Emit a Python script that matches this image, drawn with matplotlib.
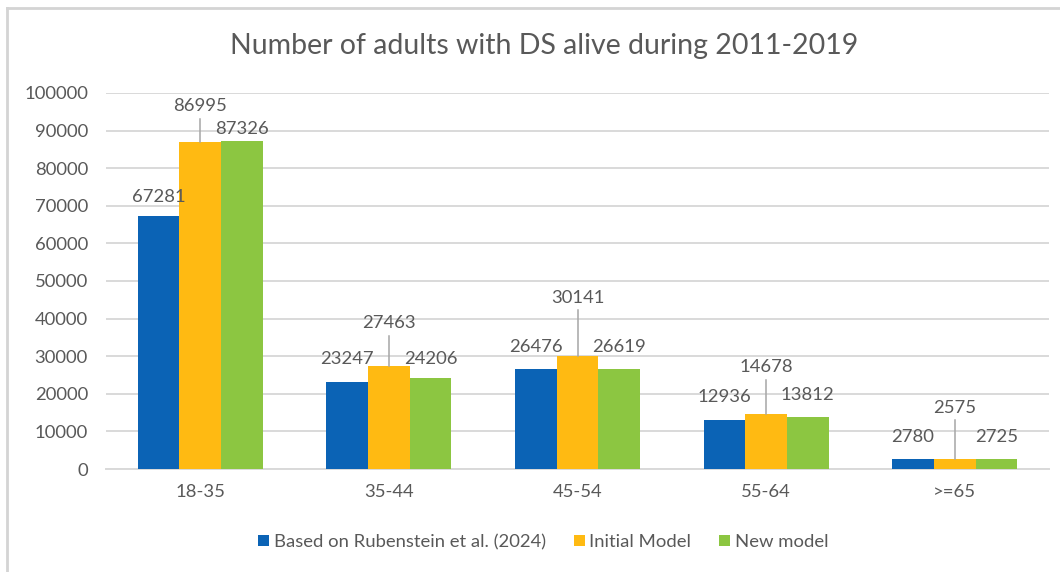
# Adults with Down syndrome alive 2011-2019, by age band and data source
import numpy as np
import matplotlib
matplotlib.use('Agg')
from matplotlib import pyplot as plt
from matplotlib.lines import Line2D

# Data
age_groups = ['18-35', '35-44', '45-54', '55-64', '>=65']
rubenstein = [67281, 23247, 26476, 12936, 2780]
initial_model = [86995, 27463, 30141, 14678, 2575]
new_model = [87326, 24206, 26619, 13812, 2725]

series_names = ['Based on Rubenstein et al. (2024)', 'Initial Model', 'New model']
colors = ['#0B63B5', '#FFBA12', '#8CC641']

# where each value label sits (data units), Excel moved several of them by hand
label_y_rub = [72300, 29300, 32500, 19200, 8500]
label_y_init = [96500, 38900, 45600, 27200, 16300]
label_y_new = [90400, 29300, 32500, 19700, 8500]

text_col = '#595959'
grid_col = '#D9D9D9'
fs = 13.3
plt.rcParams['font.family'] = ['Lato', 'DejaVu Sans']

fig = plt.figure(figsize=(10.6, 5.72), dpi=100)
ax = fig.add_axes([106/1060, 1-469/572, (1049-106)/1060, (469-93)/572])

x = np.arange(len(age_groups))
w = 0.221
all_series = [rubenstein, initial_model, new_model]
all_labels = [label_y_rub, label_y_init, label_y_new]

for i, (vals, ly) in enumerate(zip(all_series, all_labels)):
    xs = x + (i - 1) * w
    ax.bar(xs, vals, width=w, color=colors[i], label=series_names[i], zorder=3)
    for xi, v, y in zip(xs, vals, ly):
        ax.text(xi, y, str(v), ha='center', va='center', fontsize=fs,
                color=text_col, zorder=4)
        if i == 1:
            # leader line from the bar top to the moved label
            ax.plot([xi, xi], [v, y - 3400], color='#A6A6A6', lw=1.1, zorder=4)

ax.set_xlim(-0.5, len(age_groups) - 0.5)
ax.set_ylim(0, 100000)
ax.set_yticks(np.arange(0, 100001, 10000))
ax.set_xticks(x)
ax.set_xticklabels(age_groups)
ax.yaxis.grid(True, color=grid_col, lw=1.4, zorder=0)
ax.set_axisbelow(True)
for s in ['top', 'right', 'left']:
    ax.spines[s].set_visible(False)
ax.spines['bottom'].set_color(grid_col)
ax.spines['bottom'].set_linewidth(1.4)
ax.tick_params(axis='y', length=0, pad=13, labelsize=fs, labelcolor=text_col)
ax.tick_params(axis='x', length=0, pad=11, labelsize=fs, labelcolor=text_col)

fig.text(544/1060, 1-46/572, 'Number of adults with DS alive during 2011-2019',
         ha='center', va='center', fontsize=20.5, color=text_col)

fig.legend(loc='center', bbox_to_anchor=(543/1060, 1-542/572), ncol=3,
           frameon=False, fontsize=fs, labelcolor=text_col,
           handlelength=0.6, handleheight=0.6, handletextpad=0.25,
           columnspacing=1.5)

# chart area border, only top and left edges fall inside the image
fig.lines.append(Line2D([7/1060, 1.0], [1-8/572, 1-8/572], transform=fig.transFigure,
                        color='#D4D4D4', lw=2))
fig.lines.append(Line2D([7/1060, 7/1060], [0.0, 1-8/572], transform=fig.transFigure,
                        color='#D4D4D4', lw=2))

fig.savefig('out.png', dpi=100, facecolor='white')
